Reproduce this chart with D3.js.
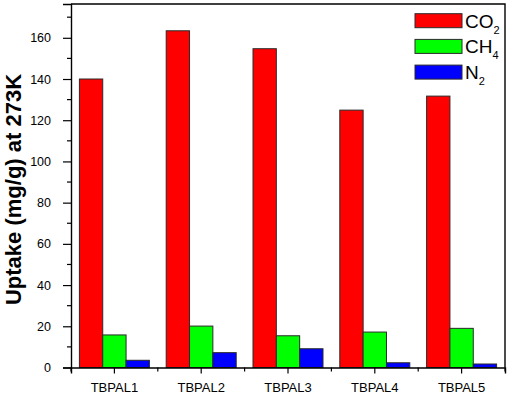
<!DOCTYPE html>
<html>
<head>
<meta charset="utf-8">
<script src="https://cdn.jsdelivr.net/npm/d3@7"></script>
<style>
    body { margin: 0; background: #fff; }
    svg { display: block; font-family: "Liberation Sans", Arial, sans-serif; }
</style>
</head>
<body>
<div id="chart"></div>
<script>
// Gas uptake at 273K for the TBPAL samples

const samples = ['TBPAL1', 'TBPAL2', 'TBPAL3', 'TBPAL4', 'TBPAL5'];
const gases = ['CO2', 'CH4', 'N2'];
const co2Uptake = [140.0, 163.4, 154.7, 124.9, 131.7];
const ch4Uptake = [15.8, 20.1, 15.4, 17.2, 19.0];
const n2Uptake = [3.5, 7.2, 9.1, 2.3, 1.7];
const yTicks = [0, 20, 40, 60, 80, 100, 120, 140, 160];
const yMinorTicks = [10, 30, 50, 70, 90, 110, 130, 150, 170];
const yMax = 176.4;

const gasColors = { CO2: '#ff0000', CH4: '#00ff00', N2: '#0000ff' };
const gasLabels = { CO2: ['CO', '2'], CH4: ['CH', '4'], N2: ['N', '2'] };

function render() {
    const W = 510, H = 394;
    const left = 71, right = 505, top = 4, bottom = 367.5;

    const rows = samples.map((s, i) => ({
        sample: s,
        CO2: co2Uptake[i],
        CH4: ch4Uptake[i],
        N2: n2Uptake[i]
    }));

    const svg = d3.select('#chart')
        .append('svg')
        .attr('width', W)
        .attr('height', H);

    const x = d3.scaleBand()
        .domain(samples)
        .range([left, right])
        .padding(0);

    const xGas = d3.scaleBand()
        .domain(gases)
        .range([0, x.bandwidth()])
        .paddingInner(0)
        .paddingOuter(0.36);

    const y = d3.scaleLinear()
        .domain([0, yMax])
        .range([bottom, top]);

    // Bars
    svg.append('g')
        .selectAll('g')
        .data(rows)
        .join('g')
        .attr('transform', d => `translate(${x(d.sample)},0)`)
        .selectAll('rect')
        .data(d => gases.map(g => ({ gas: g, value: d[g] })))
        .join('rect')
        .attr('x', d => xGas(d.gas))
        .attr('y', d => y(d.value))
        .attr('width', xGas.bandwidth())
        .attr('height', d => y(0) - y(d.value))
        .attr('fill', d => gasColors[d.gas])
        .attr('stroke', '#2a2a2a')
        .attr('stroke-width', 1);

    // Frame (top and right)
    svg.append('path')
        .attr('d', `M${left},${top}H${right}V${bottom}`)
        .attr('fill', 'none')
        .attr('stroke', '#000')
        .attr('stroke-width', 1.4);

    // Left axis
    const yAxis = svg.append('g')
        .attr('transform', `translate(${left},0)`)
        .call(d3.axisLeft(y).tickValues(yTicks).tickSize(8).tickPadding(12).tickFormat(d3.format('d')));

    yAxis.selectAll('.minor')
        .data(yMinorTicks)
        .join('line')
        .attr('class', 'minor')
        .attr('x1', -4)
        .attr('x2', 0)
        .attr('y1', d => y(d))
        .attr('y2', d => y(d))
        .attr('stroke', '#000');

    // Bottom axis
    const xAxis = svg.append('g')
        .attr('transform', `translate(0,${bottom})`)
        .call(d3.axisBottom(x).tickSize(6).tickPadding(9));

    const bounds = samples.map(s => x(s)).concat([right]);
    xAxis.selectAll('.minor')
        .data(bounds)
        .join('line')
        .attr('class', 'minor')
        .attr('x1', d => d)
        .attr('x2', d => d)
        .attr('y1', 0)
        .attr('y2', 4)
        .attr('stroke', '#000');

    [yAxis, xAxis].forEach(ax => {
        ax.select('.domain').attr('stroke', '#000').attr('stroke-width', 1.4);
        ax.selectAll('.tick line').attr('stroke', '#000').attr('stroke-width', 1.2);
        ax.selectAll('.minor').attr('stroke-width', 1.2);
        ax.selectAll('text')
            .attr('fill', '#000')
            .attr('font-family', '"Liberation Sans", Arial, sans-serif');
    });
    yAxis.selectAll('text').attr('font-size', '12.5px');
    xAxis.selectAll('text').attr('font-size', '13px');

    // Y-axis title
    svg.append('text')
        .attr('transform', `translate(20.5,${(71.7 + 307.3) / 2}) rotate(-90)`)
        .attr('text-anchor', 'middle')
        .attr('font-size', '22px')
        .attr('font-weight', 'bold')
        .attr('fill', '#000')
        .text('Uptake (mg/g) at 273K');

    // Legend
    const legend = svg.append('g')
        .attr('transform', 'translate(415,13.7)');

    const item = legend.selectAll('g')
        .data(gases)
        .join('g')
        .attr('transform', (d, i) => `translate(0,${i * 25.7})`);

    item.append('rect')
        .attr('width', 47)
        .attr('height', 14)
        .attr('fill', d => gasColors[d])
        .attr('stroke', '#2a2a2a')
        .attr('stroke-width', 1);

    const label = item.append('text')
        .attr('x', 50)
        .attr('y', 14)
        .attr('font-size', '19px')
        .attr('fill', '#000');

    label.append('tspan').text(d => gasLabels[d][0]);
    label.append('tspan')
        .attr('font-size', '11px')
        .attr('dy', 6)
        .text(d => gasLabels[d][1]);
}

render();
</script>
</body>
</html>
